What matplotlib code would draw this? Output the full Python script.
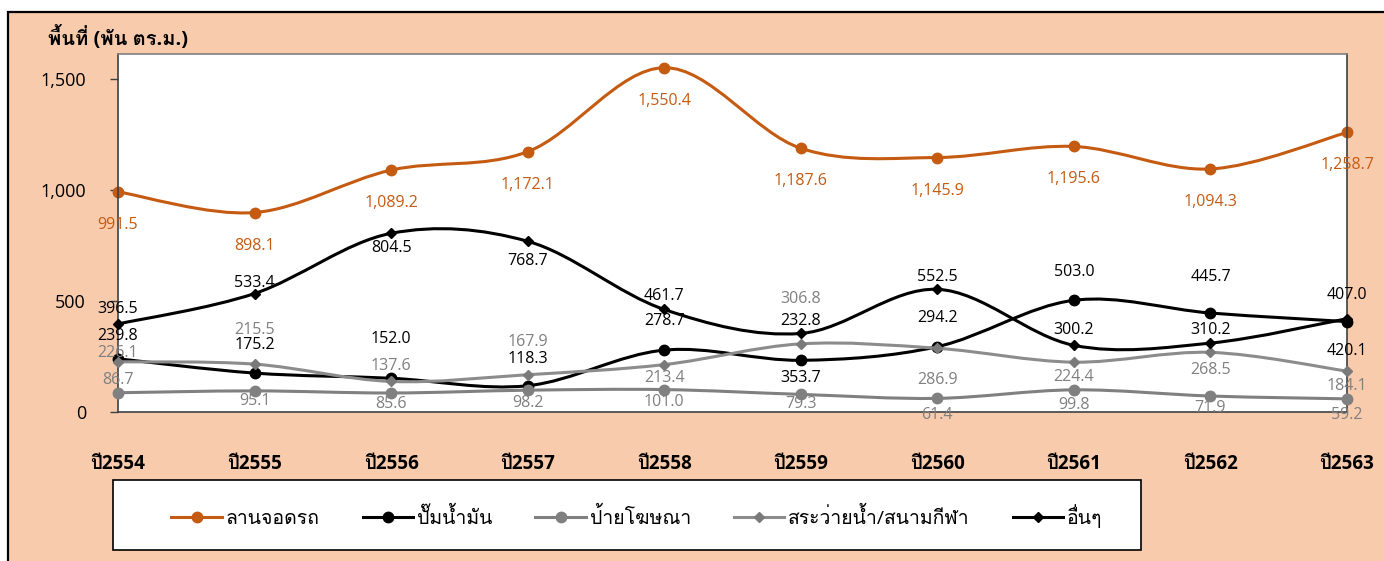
import numpy as np
import matplotlib
matplotlib.use("Agg")
import matplotlib.pyplot as plt
from matplotlib import font_manager
from matplotlib.ft2font import FT2Font
from matplotlib.path import Path
from matplotlib.patches import PathPatch, Rectangle
from matplotlib.lines import Line2D

# ---- data ----
years = ["ปี2554", "ปี2555", "ปี2556", "ปี2557", "ปี2558",
         "ปี2559", "ปี2560", "ปี2561", "ปี2562", "ปี2563"]
parking = [991.5, 898.1, 1089.2, 1172.1, 1550.4, 1187.6, 1145.9, 1195.6, 1094.3, 1258.7]
gas_station = [239.8, 175.2, 152.0, 118.3, 278.7, 232.8, 294.2, 503.0, 445.7, 407.0]
billboard = [86.7, 95.1, 85.6, 98.2, 101.0, 79.3, 61.4, 99.8, 71.9, 59.2]
pool_stadium = [226.1, 215.5, 137.6, 167.9, 213.4, 306.8, 286.9, 224.4, 268.5, 184.1]
others = [396.5, 533.4, 804.5, 768.7, 461.7, 353.7, 552.5, 300.2, 310.2, 420.1]
series_names = ["ลานจอดรถ", "ปั๊มน้ำมัน", "ป้ายโฆษณา", "สระว่ายน้ำ/สนามกีฬา", "อื่นๆ"]
y_label = "พื้นที่ (พัน ตร.ม.)"

# label offsets in pixels (positive = downwards), layout only
off_parking = [33] * 10
off_gas = [-23, -28, -39, -27, -29, -39, -29, -28, -36, -27]
off_bill = [-13, 10, 11, 13, 12, 10, 17, 15, 12, 16]
off_pool = [-9, -34, -15, -33, 13, -45, 32, 15, 18, 15]
off_others = [-15, -11, 15, 20, -13, 45, -12, -15, -13, 32]

# ---- fonts: find something with Thai glyphs ----
thai = []
for f in font_manager.fontManager.ttflist:
    try:
        if 0x0E1B in FT2Font(f.fname).get_charmap():
            if f.name not in thai:
                thai.append(f.name)
    except Exception:
        pass
plt.rcParams["font.family"] = ["Open Sans", "DejaVu Sans"] + thai[:2]

W, H, DPI = 1384, 561, 100
PEACH = "#F8CBAD"
ORANGE = "#C55A11"
GRAY = "#808080"


def fx(px):
    return px / W


def fy(py):
    return 1 - py / H


def smooth_path(xs, ys):
    # Excel-like smoothed line as cubic bezier segments
    pts = np.column_stack([xs, ys]).astype(float)
    n = len(pts)
    verts = [pts[0]]
    codes = [Path.MOVETO]
    for i in range(n - 1):
        p0 = pts[i - 1] if i > 0 else pts[i]
        p1, p2 = pts[i], pts[i + 1]
        p3 = pts[i + 2] if i + 2 < n else pts[i + 1]
        verts += [p1 + (p2 - p0) / 6, p2 - (p3 - p1) / 6, p2]
        codes += [Path.CURVE4] * 3
    return Path(verts, codes)


fig = plt.figure(figsize=(W / DPI, H / DPI), dpi=DPI, facecolor="white")
fig.patches.append(Rectangle((fx(8), fy(H + 20)), fx(W + 40), (H + 8) / H,
                             transform=fig.transFigure, facecolor=PEACH,
                             edgecolor="black", linewidth=1.6, zorder=-10))

ax = fig.add_axes([fx(118), fy(412), fx(1347 - 118), (412 - 54) / H])
ax.set_facecolor("white")
x = np.arange(len(years))

styles = [
    (parking, ORANGE, ORANGE, "o", 7.5, off_parking, ORANGE),
    (gas_station, "black", "black", "o", 7.5, off_gas, "black"),
    (billboard, GRAY, GRAY, "o", 7.5, off_bill, GRAY),
    (pool_stadium, "#8C8C8C", "#7A7A7A", "D", 5.5, off_pool, GRAY),
    (others, "black", "black", "D", 5.5, off_others, "black"),
]

handles = []
for z, (vals, lc, mc, mk, ms, offs, tc) in enumerate(styles):
    ax.add_patch(PathPatch(smooth_path(x, vals), fill=False, edgecolor=lc,
                           linewidth=2.2, zorder=2 + z, capstyle="round"))
    ax.plot(x, vals, linestyle="none", marker=mk, markersize=ms, color=mc,
            zorder=2 + z, clip_on=False)
    handles.append(Line2D([], [], color=lc, linewidth=2.2, marker=mk,
                          markersize=ms, markerfacecolor=mc, markeredgecolor=mc))

for vals, lc, mc, mk, ms, offs, tc in styles:
    for xi, v, o in zip(x, vals, offs):
        ax.annotate(f"{v:,.1f}", (xi, v), xytext=(0, -o), textcoords="offset pixels",
                    ha="center", va="center", fontsize=11.5, color=tc,
                    zorder=20, annotation_clip=False)

ax.set_xlim(0, 9)
ax.set_ylim(0, 1612)
ax.set_yticks([0, 500, 1000, 1500])
ax.set_yticklabels(["0", "500", "1,000", "1,500"])
ax.set_xticks(x)
ax.set_xticklabels(years, fontweight="bold")
ax.tick_params(axis="y", length=6, width=1, color="#404040", pad=17,
               labelsize=13)
ax.tick_params(axis="x", length=0, pad=30, labelsize=13.5)
for side in ["left", "bottom", "right"]:
    ax.spines[side].set_color("#404040")
    ax.spines[side].set_linewidth(1.2)
ax.spines["top"].set_color(GRAY)
ax.spines["top"].set_linewidth(1.2)

fig.text(fx(48), fy(38), y_label, fontsize=14.5, fontweight="bold",
         ha="left", va="center")

# legend box
fig.patches.append(Rectangle((fx(113), fy(550)), fx(1141 - 113), (550 - 480) / H,
                             transform=fig.transFigure, facecolor="white",
                             edgecolor="black", linewidth=1.2, zorder=5))
leg = fig.legend(handles, series_names, loc="center",
                 bbox_to_anchor=(fx(637), fy(516)), ncol=5, frameon=False,
                 fontsize=14, handlelength=2.6, handletextpad=0.2,
                 columnspacing=2.2)
leg.set_zorder(6)

fig.savefig("out.png", dpi=DPI, facecolor="white")
